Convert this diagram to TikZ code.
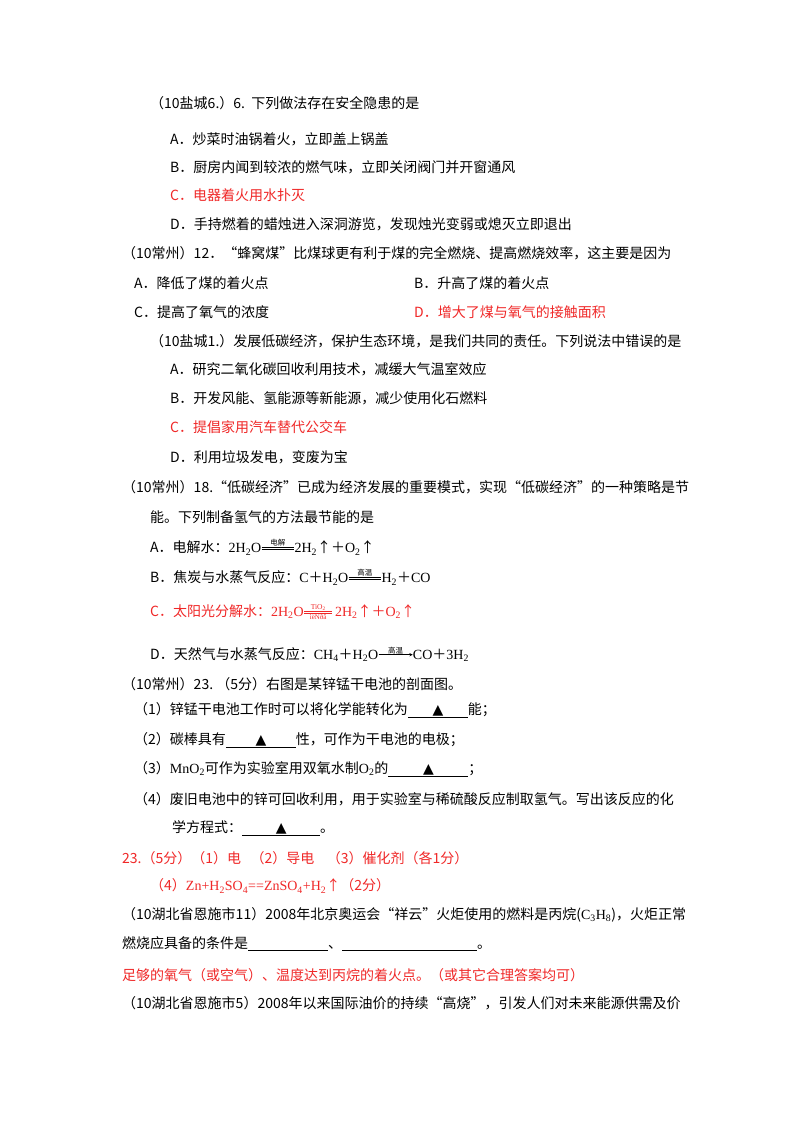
\documentclass[tikz,border=0pt]{standalone}
\usepackage{fontspec}
\setmainfont{Noto Sans CJK SC}
\newfontfamily\lt{Liberation Serif}
\newfontfamily\djv{DejaVu Sans}
\newcommand\sub[1]{\textsubscript{#1}}
\newcommand\eqs[3]{\tikz[baseline=-0.6ex]{\draw[line width=.5pt] (0,0.045)--(#3,0.045) (0,-0.045)--(#3,-0.045); \node[font=\fontsize{7.5}{7.5}\selectfont,above,inner sep=0.5pt] at (#3/2,0.045){#1}; \node[font=\fontsize{7}{7}\selectfont,below,inner sep=0.5pt] at (#3/2,-0.045){#2};}}
\newcommand\arr[2]{\tikz[baseline=-0.6ex]{\draw[line width=.5pt,-stealth] (0,0)--(#2,0); \node[font=\fontsize{7.5}{7.5}\selectfont,above,inner sep=0.5pt] at (#2/2,0){#1};}}
\newcommand\blank[1]{\underline{\makebox[#1]{\djv▲}}}
\newcommand\ublank[1]{\underline{\makebox[#1]{}}}
\definecolor{rd}{RGB}{240,40,40}
\begin{document}
\begin{tikzpicture}[t/.style={anchor=west,inner sep=0pt,font=\fontsize{14}{14}\selectfont},r/.style={t,text=rd}]
\useasboundingbox[fill=white] (0,0) rectangle (800pt,-1132pt);
\node[t] (l1) at (150pt,-103pt) {（10盐城6.）6.\ \ 下列做法存在安全隐患的是};
\node[t] (l2) at (170pt,-139pt) {A．炒菜时油锅着火，立即盖上锅盖};
\node[t] (l3) at (170pt,-167pt) {B．厨房内闻到较浓的燃气味，立即关闭阀门并开窗通风};
\node[r] (l4) at (170pt,-195pt) {C．电器着火用水扑灭};
\node[t] (l5) at (170pt,-224pt) {D．手持燃着的蜡烛进入深洞游览，发现烛光变弱或熄灭立即退出};
\node[t] (l6) at (122pt,-253pt) {（10常州）12．“蜂窝煤”比煤球更有利于煤的完全燃烧、提高燃烧效率，这主要是因为};
\node[t] (l7) at (134pt,-283pt) {A．降低了煤的着火点};
\node[t] (l8) at (414pt,-283pt) {B．升高了煤的着火点};
\node[t] (l9) at (134pt,-312pt) {C．提高了氧气的浓度};
\node[r] (l10) at (414pt,-312pt) {D．增大了煤与氧气的接触面积};
\node[t] (l11) at (150pt,-341pt) {（10盐城1.）发展低碳经济，保护生态环境，是我们共同的责任。下列说法中错误的是};
\node[t] (l12) at (170pt,-369pt) {A．研究二氧化碳回收利用技术，减缓大气温室效应};
\node[t] (l13) at (170pt,-398pt) {B．开发风能、氢能源等新能源，减少使用化石燃料};
\node[r] (l14) at (170pt,-427pt) {C．提倡家用汽车替代公交车};
\node[t] (l15) at (170pt,-457pt) {D．利用垃圾发电，变废为宝};
\node[t] (l16) at (122pt,-487pt) {（10常州）18.“低碳经济”已成为经济发展的重要模式，实现“低碳经济”的一种策略是节};
\node[t] (l17) at (150pt,-517pt) {能。下列制备氢气的方法最节能的是};
\node[t] (l18) at (150pt,-547pt) {A．电解水：{\lt 2H\sub{2}O}\eqs{电解}{}{1.15}{\lt 2H\sub{2}}↑＋{\lt O\sub{2}}↑};
\node[t] (l19) at (150pt,-577pt) {B．焦炭与水蒸气反应：{\lt C}＋{\lt H\sub{2}O}\eqs{高温}{}{1.15}{\lt H\sub{2}}＋{\lt CO}};
\node[r] (l20) at (150pt,-612pt) {C．太阳光分解水：{\lt 2H\sub{2}O}\eqs{\lt TiO\sub{2}}{\lt ìëÑðâ}{1.0}\,{\lt 2H\sub{2}}↑＋{\lt O\sub{2}}↑};
\node[t] (l21) at (150pt,-654pt) {D．天然气与水蒸气反应：{\lt CH\sub{4}}＋{\lt H\sub{2}O}\arr{高温}{1.2}{\lt CO}＋{\lt 3H\sub{2}}};
\node[t] (l22) at (122pt,-684pt) {（10常州）23.\ （5分）右图是某锌锰干电池的剖面图。};
\node[t] (l23) at (134pt,-710pt) {（1）锌锰干电池工作时可以将化学能转化为\blank{60pt}能；};
\node[t] (l24) at (134pt,-740pt) {（2）碳棒具有\blank{70pt}性，可作为干电池的电极；};
\node[t] (l25) at (134pt,-769pt) {（3）{\lt MnO\sub{2}}可作为实验室用双氧水制{\lt O\sub{2}}的\blank{80pt}；};
\node[t] (l26) at (134pt,-799pt) {（4）废旧电池中的锌可回收利用，用于实验室与稀硫酸反应制取氢气。写出该反应的化};
\node[t] (l27) at (172pt,-828pt) {学方程式：\blank{78pt}。};
\node[r] (l28) at (122pt,-858pt) {23.（5分）（1）电\ \ \ （2）导电\ \ \ \ （3）催化剂（各1分）};
\node[r] (l29) at (150pt,-886pt) {（4）{\lt Zn+H\sub{2}SO\sub{4}==ZnSO\sub{4}+H\sub{2}}↑（2分）};
\node[t] (l30) at (122pt,-915pt) {（10湖北省恩施市11）2008年北京奥运会“祥云”火炬使用的燃料是丙烷({\lt C\sub{3}H\sub{8}})，火炬正常};
\node[t] (l31) at (122pt,-944pt) {燃烧应具备的条件是\ublank{80pt}、\ublank{135pt}。};
\node[r] (l32) at (122pt,-975pt) {足够的氧气（或空气）、温度达到丙烷的着火点。（或其它合理答案均可）};
\node[t] (l33) at (122pt,-1003pt) {（10湖北省恩施市5）2008年以来国际油价的持续“高烧”，引发人们对未来能源供需及价};
\end{tikzpicture}
\end{document}
